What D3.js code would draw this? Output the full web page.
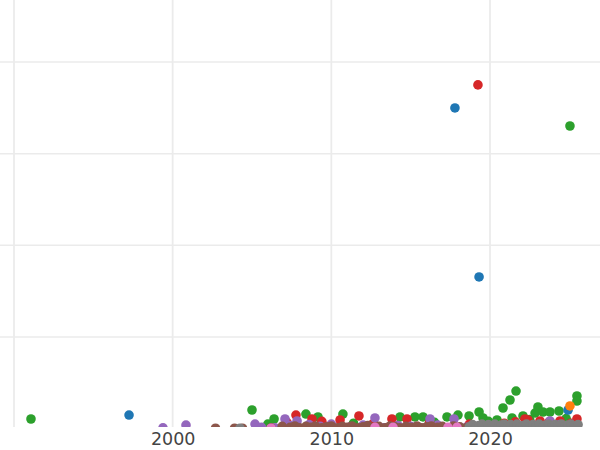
<!DOCTYPE html>
<html><head><meta charset="utf-8">
<script src="https://cdn.jsdelivr.net/npm/d3@7"></script>
<style>body{margin:0;background:#fff}svg{display:block}</style>
</head><body>
<svg id="c" width="600" height="450"></svg>
<script>
// ---- data (year, value) per series ----
const seriesNames = ["A","B","C","D","E","F","G","H"];
const seriesColors = ["#1f77b4","#ff7f0e","#2ca02c","#d62728","#9467bd","#8c564b","#e377c2","#7f7f7f"];

const blueYears  = [1997.25, 2017.79, 2019.31, 2024.92];
const blueValues = [149, 3499, 1655, 204];

const orangeYears  = [2025.04];
const orangeValues = [248];

const greenYears  = [1991.07, 2005.0, 2006.0, 2006.39, 2008.4, 2009.16, 2010.73, 2011.4, 2014.33, 2015.27, 2015.78, 2016.5, 2017.29, 2017.98, 2018.68, 2019.31, 2019.56, 2020.44, 2020.82, 2021.26, 2021.64, 2021.39, 2022.08, 2022.84, 2023.02, 2023.34, 2023.78, 2024.35, 2025.04, 2025.48, 2025.48, 2024.8, 2022.5, 2019.9];
const greenValues = [106, 204, 51, 106, 160, 128, 160, 60, 128, 128, 128, 70, 128, 149, 139, 182, 117, 95, 226, 313, 411, 117, 139, 171, 237, 182, 182, 193, 3302, 357, 302, 110, 100, 80];

const redYears  = [2019.24, 2007.77, 2008.78, 2010.55, 2011.74, 2013.82, 2014.77, 2022.39, 2022.2, 2023.15, 2024.41, 2025.48, 2007.2, 2009.4, 2012.6, 2016.2, 2018.7, 2020.9, 2023.7, 2025.1, 2021.6];
const redValues = [3750, 149, 106, 95, 139, 106, 106, 95, 106, 84, 84, 106, 70, 80, 50, 70, 50, 60, 70, 60, 75];

const purpleYears  = [1999.39, 2000.84, 2005.19, 2006.45, 2007.08, 2007.84, 2012.75, 2016.22, 2017.73, 2023.78, 2005.6, 2007.4, 2009.3, 2010.0, 2011.2, 2012.0, 2013.3, 2015.0, 2016.7, 2018.5, 2021.9, 2024.4, 2008.6, 2014.2];
const purpleValues = [10, 40, 51, 10, 106, 84, 117, 106, 106, 84, 15, 35, 25, 50, 20, 40, 10, 25, 40, 15, 30, 45, 45, 35];

const brownYears  = [2002.7, 2003.9, 2004.4, 2006.2, 2006.9, 2007.4, 2007.7, 2008.0, 2008.4, 2008.7, 2009.0, 2009.4, 2009.7, 2010.0, 2010.4, 2010.7, 2011.0, 2011.3, 2011.7, 2012.0, 2012.3, 2012.7, 2013.0, 2013.4, 2013.7, 2014.0, 2014.3, 2014.7, 2015.0, 2015.4, 2015.7, 2016.0, 2016.3, 2016.7, 2017.0, 2017.4, 2017.7, 2018.1, 2018.5, 2019.0, 2020.0, 2021.0, 2022.0, 2023.0, 2024.0, 2025.0];
const brownValues = [5, 5, 5, 10, 25, 15, 30, 10, 25, 15, 30, 10, 20, 30, 10, 25, 15, 30, 10, 20, 35, 15, 25, 10, 30, 20, 10, 25, 15, 30, 10, 20, 30, 15, 25, 10, 30, 20, 10, 25, 20, 30, 15, 25, 20, 30];

const pinkYears  = [2012.75, 2013.89, 2017.35, 2017.92, 2006.2];
const pinkValues = [15, 15, 15, 15, 5];

const grayYears  = [2004.24, 2018.7, 2018.9, 2019.1, 2019.3, 2019.5, 2019.7, 2019.9, 2020.1, 2020.3, 2020.5, 2020.7, 2020.9, 2021.1, 2021.3, 2021.5, 2021.7, 2021.9, 2022.1, 2022.3, 2022.5, 2022.7, 2022.9, 2023.1, 2023.3, 2023.5, 2023.7, 2023.9, 2024.1, 2024.3, 2024.5, 2024.7, 2024.9, 2025.1, 2025.3, 2025.55];
const grayValues = [5, 20, 45, 15, 35, 50, 20, 45, 25, 50, 15, 40, 50, 20, 45, 30, 50, 15, 35, 50, 20, 45, 30, 50, 15, 40, 50, 20, 45, 30, 50, 20, 40, 50, 30, 45];

const xTickValues = [2000, 2010, 2020];
const xGridValues = [1990, 2000, 2010, 2020];
const yGridValues = [0, 1000, 2000, 3000, 4000];

// ---- drawing ----
const svg = d3.select("#c");
const plot = {left: 0, right: 600, top: 0, bottom: 427};

const x = d3.scaleLinear().domain([1990, 2020]).range([14, 490]);
const y = d3.scaleLinear().domain([0, 4000]).range([428.7, 62]);

svg.append("defs").append("clipPath").attr("id","clip")
  .append("rect").attr("x",plot.left).attr("y",plot.top)
  .attr("width",plot.right-plot.left).attr("height",plot.bottom-plot.top);

const grid = svg.append("g").attr("clip-path","url(#clip)");
grid.selectAll("line.h").data(yGridValues).join("line")
  .attr("x1",plot.left).attr("x2",plot.right)
  .attr("y1",d=>y(d)).attr("y2",d=>y(d))
  .attr("stroke","#ebebeb").attr("stroke-width",1.5);
grid.selectAll("line.v").data(xGridValues).join("line")
  .attr("x1",d=>x(d)).attr("x2",d=>x(d))
  .attr("y1",plot.top).attr("y2",plot.bottom)
  .attr("stroke","#ebebeb").attr("stroke-width",1.8);

const xAxis = d3.axisBottom(x).tickValues(xTickValues).tickFormat(d3.format("d")).tickSize(0).tickPadding(6);
const ax = svg.append("g").attr("transform",`translate(0,${plot.bottom})`).call(xAxis);
ax.select(".domain").remove();
ax.selectAll("text").attr("font-family","DejaVu Sans").attr("font-size",17.5).attr("fill","#444");

const allSeries = [
  {name:seriesNames[2], color:seriesColors[2], xs:greenYears, ys:greenValues},
  {name:seriesNames[3], color:seriesColors[3], xs:redYears, ys:redValues},
  {name:seriesNames[4], color:seriesColors[4], xs:purpleYears, ys:purpleValues},
  {name:seriesNames[5], color:seriesColors[5], xs:brownYears, ys:brownValues},
  {name:seriesNames[6], color:seriesColors[6], xs:pinkYears, ys:pinkValues},
  {name:seriesNames[7], color:seriesColors[7], xs:grayYears, ys:grayValues},
  {name:seriesNames[0], color:seriesColors[0], xs:blueYears, ys:blueValues},
  {name:seriesNames[1], color:seriesColors[1], xs:orangeYears, ys:orangeValues}
];

const pts = svg.append("g").attr("clip-path","url(#clip)");
allSeries.forEach(s => {
  const data = s.xs.map((v,i)=>({x:v, y:s.ys[i]}));
  pts.append("g").selectAll("circle").data(data).join("circle")
    .attr("cx",d=>x(d.x)).attr("cy",d=>y(d.y)).attr("r",4.8)
    .attr("fill",s.color);
});
</script>
</body></html>
